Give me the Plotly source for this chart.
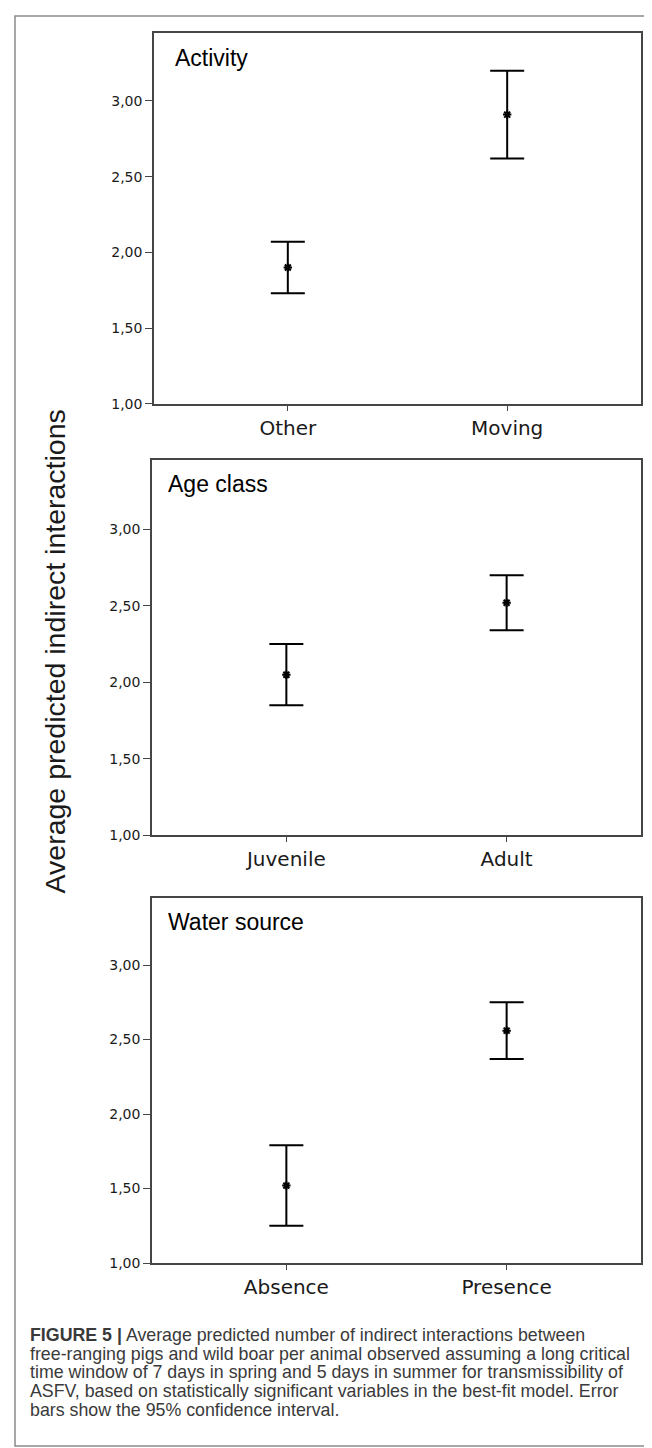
import plotly.graph_objects as go

# ---------------- data ----------------
panel_titles = ["Activity", "Age class", "Water source"]
activity_cats = ["Other", "Moving"]
age_cats = ["Juvenile", "Adult"]
water_cats = ["Absence", "Presence"]

activity_mean = [1.90, 2.91]
activity_upper = [2.07, 3.20]
activity_lower = [1.73, 2.62]

age_mean = [2.05, 2.52]
age_upper = [2.25, 2.70]
age_lower = [1.85, 2.34]

water_mean = [1.52, 2.56]
water_upper = [1.79, 2.75]
water_lower = [1.25, 2.37]

ytick_vals = [1.0, 1.5, 2.0, 2.5, 3.0]
ytick_text = ["1,00", "1,50", "2,00", "2,50", "3,00"]
y_title = "Average predicted indirect interactions"
caption_lines = [
    "<b>FIGURE 5 |</b> Average predicted number of indirect interactions between",
    "free-ranging pigs and wild boar per animal observed assuming a long critical",
    "time window of 7 days in spring and 5 days in summer for transmissibility of",
    "ASFV, based on statistically significant variables in the best-fit model. Error",
    "bars show the 95% confidence interval.",
]

# ---------------- layout helpers ----------------
W, H = 652, 1448


def px_x(p):
    return p / W


def px_y(p):
    return 1 - p / H


panels = [
    (activity_cats, activity_mean, activity_upper, activity_lower),
    (age_cats, age_mean, age_upper, age_lower),
    (water_cats, water_mean, water_upper, water_lower),
]
# pixel boxes: left, top, right, bottom
boxes = [(146, 25, 633, 398), (144, 455, 633, 832), (144, 895, 633, 1262)]
title_pos = [(165, 50), (158, 479), (158, 919)]

AX_COLOR = "#454545"
fig = go.Figure()
layout = dict(
    width=W,
    height=H,
    margin=dict(l=0, r=0, t=0, b=0),
    paper_bgcolor="white",
    plot_bgcolor="white",
    showlegend=False,
    annotations=[],
    shapes=[],
)

for i, ((cats, m, u, lo), box) in enumerate(zip(panels, boxes), start=1):
    xa = "x" if i == 1 else f"x{i}"
    ya = "y" if i == 1 else f"y{i}"
    fig.add_trace(
        go.Scatter(
            x=cats,
            y=m,
            mode="markers",
            xaxis=xa,
            yaxis=ya,
            marker=dict(symbol="asterisk-open", size=7, color="black",
                        line=dict(color="black", width=2)),
            error_y=dict(
                type="data",
                symmetric=False,
                array=[a - b for a, b in zip(u, m)],
                arrayminus=[b - c for b, c in zip(m, lo)],
                color="black",
                thickness=2,
                width=17,
            ),
            hoverinfo="skip",
        )
    )
    l, t, r, b = box
    layout[f"xaxis{'' if i == 1 else i}"] = dict(
        domain=[px_x(l), px_x(r)],
        anchor=ya,
        type="category",
        range=[-0.61, 1.61],
        showline=True,
        mirror=True,
        linecolor=AX_COLOR,
        linewidth=1.5,
        ticks="outside",
        ticklen=5,
        tickwidth=1.2,
        tickcolor=AX_COLOR,
        tickfont=dict(family="DejaVu Sans", size=20, color="#1a1a1a"),
        showgrid=False,
        zeroline=False,
        fixedrange=True,
    )
    layout[f"yaxis{'' if i == 1 else i}"] = dict(
        domain=[px_y(b), px_y(t)],
        anchor=xa,
        range=[1.0, 3.45],
        tickvals=ytick_vals,
        ticktext=ytick_text,
        showline=True,
        mirror=True,
        linecolor=AX_COLOR,
        linewidth=1.5,
        ticks="outside",
        ticklen=7,
        tickwidth=1.2,
        tickcolor=AX_COLOR,
        tickfont=dict(family="DejaVu Sans", size=14, color="#1a1a1a"),
        showgrid=False,
        zeroline=False,
        fixedrange=True,
    )
    tx, ty = title_pos[i - 1]
    layout["annotations"].append(
        dict(
            text=panel_titles[i - 1],
            xref="paper", yref="paper",
            x=px_x(tx), y=px_y(ty),
            xanchor="left", yanchor="middle",
            showarrow=False,
            font=dict(family="Liberation Sans", size=23, color="black"),
        )
    )

# y axis title
layout["annotations"].append(
    dict(
        text=y_title,
        xref="paper", yref="paper",
        x=px_x(47), y=px_y(647),
        xanchor="center", yanchor="middle",
        textangle=-90,
        showarrow=False,
        font=dict(family="Liberation Sans", size=28.5, color="#1a1a1a"),
    )
)

# caption
caption_y = [1334, 1353, 1372, 1391, 1410]
for line, cy in zip(caption_lines, caption_y):
    layout["annotations"].append(
        dict(
            text=line,
            xref="paper", yref="paper",
            x=px_x(20), y=px_y(cy),
            xanchor="left", yanchor="middle",
            showarrow=False,
            font=dict(family="Liberation Sans", size=17.8, color="#3a3a3a"),
        )
    )

# outer frame
layout["shapes"].append(
    dict(
        type="rect", xref="paper", yref="paper",
        x0=px_x(7), x1=px_x(646), y0=px_y(1446), y1=px_y(8),
        line=dict(color="#8a8a8a", width=1.5),
        fillcolor="rgba(0,0,0,0)",
        layer="below",
    )
)

fig.update_layout(**layout)
fig.write_html("out.html")
